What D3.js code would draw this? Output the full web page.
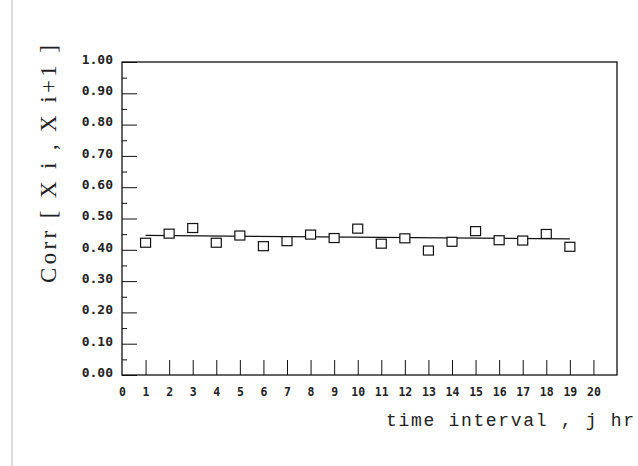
<!DOCTYPE html>
<html>
<head>
<meta charset="utf-8">
<script src="https://cdn.jsdelivr.net/npm/d3@7"></script>
<style>
  body { margin: 0; background: #fff; }
  svg { display: block; }
</style>
</head>
<body>
<div id="chart"></div>
<script>
// lag j (hours) and correlation values
var lagHours = [1, 2, 3, 4, 5, 6, 7, 8, 9, 10, 11, 12, 13, 14, 15, 16, 17, 18, 19];
var corrValues = [0.421, 0.450, 0.468, 0.421, 0.444, 0.410, 0.426, 0.447, 0.436, 0.466,
                  0.418, 0.435, 0.396, 0.424, 0.458, 0.429, 0.428, 0.449, 0.408];

// fitted line end points
var fitX = [1, 19];
var fitY = [0.446, 0.435];

var yTicks = [0, 0.1, 0.2, 0.3, 0.4, 0.5, 0.6, 0.7, 0.8, 0.9, 1.0];
var xTicks = d3.range(0, 21);

var svgWidth = 638, svgHeight = 466;
var margin = { top: 62, right: 21, bottom: 91, left: 122 };
var chartWidth = svgWidth - margin.left - margin.right;
var chartHeight = svgHeight - margin.top - margin.bottom;

var svg = d3.select("#chart").append("svg")
    .attr("width", svgWidth)
    .attr("height", svgHeight);

// faint page edge from the scan
svg.append("line")
    .attr("x1", 12).attr("x2", 12)
    .attr("y1", 0).attr("y2", svgHeight)
    .attr("stroke", "#bbb")
    .attr("stroke-width", 1);

var chartGroup = svg.append("g")
    .attr("transform", `translate(${margin.left}, ${margin.top})`);

var xScale = d3.scaleLinear().domain([0, 21]).range([0, chartWidth]);
var yScale = d3.scaleLinear().domain([0, 1]).range([chartHeight, 0]);

// minor y ticks
chartGroup.append("g")
    .call(d3.axisRight(yScale).tickValues(d3.range(0.05, 1, 0.1)).tickSize(5).tickFormat(""))
    .call(g => g.select(".domain").remove())
    .selectAll("line").attr("stroke", "#111");

// major y ticks with labels on the left
var yAxis = chartGroup.append("g")
    .call(d3.axisRight(yScale).tickValues(yTicks).tickSize(15).tickFormat(d3.format(".2f")));
yAxis.select(".domain").remove();
yAxis.selectAll("line").attr("stroke", "#111");
yAxis.selectAll("text")
    .attr("text-anchor", "end")
    .attr("x", -9)
    .attr("dy", "0.1em")
    .style("font-family", "'DejaVu Sans Mono', monospace")
    .style("font-size", "13px")
    .style("font-weight", "bold")
    .attr("fill", "#222");

// x ticks pointing up
var xAxis = chartGroup.append("g")
    .attr("transform", `translate(0, ${chartHeight})`)
    .call(d3.axisTop(xScale).tickValues(xTicks.slice(1)).tickSize(15).tickFormat(""));
xAxis.select(".domain").remove();
xAxis.selectAll("line").attr("stroke", "#111");

var xLabels = chartGroup.append("g")
    .attr("transform", `translate(0, ${chartHeight})`)
    .call(d3.axisBottom(xScale).tickValues(xTicks).tickSize(0).tickPadding(13).tickFormat(d3.format("d")));
xLabels.select(".domain").remove();
xLabels.selectAll("text")
    .style("font-family", "'DejaVu Sans Mono', monospace")
    .style("font-size", "11.5px")
    .style("font-weight", "bold")
    .attr("fill", "#222");

// plot frame
chartGroup.append("rect")
    .attr("width", chartWidth)
    .attr("height", chartHeight)
    .attr("fill", "none")
    .attr("stroke", "#111")
    .attr("stroke-width", 1.3);

// fitted line
chartGroup.append("path")
    .datum(fitX.map((x, i) => [x, fitY[i]]))
    .attr("d", d3.line().x(d => xScale(d[0])).y(d => yScale(d[1])))
    .attr("stroke", "#111")
    .attr("stroke-width", 1.2)
    .attr("fill", "none");

// open square markers
var sq = 10;
chartGroup.selectAll("rect.pt")
    .data(lagHours)
    .enter()
    .append("rect")
    .attr("class", "pt")
    .attr("x", d => xScale(d) - sq / 2)
    .attr("y", (d, i) => yScale(corrValues[i]) - sq / 2)
    .attr("width", sq)
    .attr("height", sq - 1)
    .attr("fill", "#fff")
    .attr("stroke", "#111")
    .attr("stroke-width", 1.2);

// axis titles
svg.append("text")
    .attr("transform", "translate(56, 164) rotate(-90)")
    .attr("text-anchor", "middle")
    .attr("textLength", 238)
    .attr("lengthAdjust", "spacing")
    .style("font-family", "'Liberation Serif', 'Times New Roman', serif")
    .style("font-size", "23px")
    .attr("fill", "#222")
    .text("Corr [ X i , X i+1 ]");

svg.append("text")
    .attr("x", 386)
    .attr("y", 426)
    .attr("textLength", 248)
    .attr("lengthAdjust", "spacing")
    .style("font-family", "'Liberation Mono', monospace")
    .style("font-size", "18px")
    .attr("fill", "#222")
    .text("time interval , j hr");
</script>
</body>
</html>
